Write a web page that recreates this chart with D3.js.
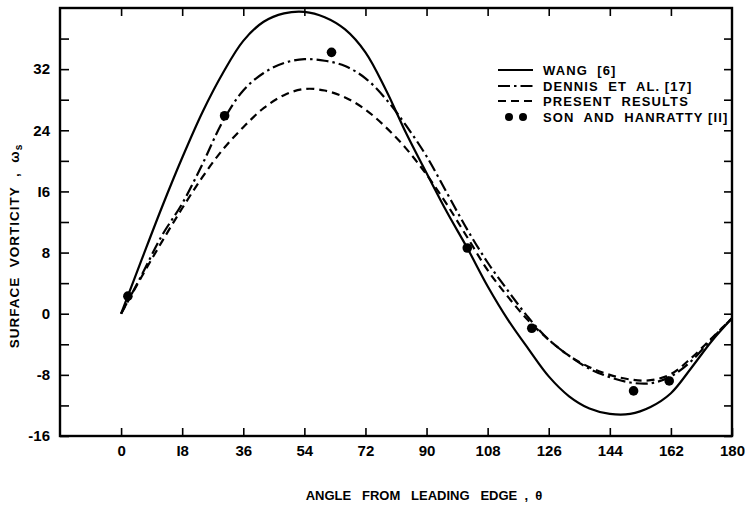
<!DOCTYPE html>
<html><head><meta charset="utf-8">
<script src="https://cdn.jsdelivr.net/npm/d3@7"></script>
<style>
body{margin:0;background:#fff;}
svg{display:block;}
text{font-family:"Liberation Sans",Arial,sans-serif;fill:#000;}
</style></head>
<body><svg id="c" width="745" height="508"></svg>
<script>
// ---- data ----
const angles = [0,6,12,18,24,30,36,42,48,54,60,66,72,78,84,90,96,102,108,114,120,126,132,138,144,150,156,162,168,174,180];
const wang    = [0,7.0,13.9,20.4,26.4,31.5,35.7,38.2,39.3,39.5,38.8,37.2,34.2,29.3,23.6,18.4,13.3,8.6,3.6,-0.8,-4.6,-8.2,-10.8,-12.4,-13.1,-13.1,-12.2,-10.4,-7.1,-3.6,-0.6];
const dennis  = [0,5.0,10.2,14.4,19.6,25.2,29.2,31.5,32.8,33.3,33.1,32.4,30.8,28.1,24.6,20.6,15.8,11.0,6.7,3.0,-0.5,-3.4,-5.5,-7.2,-8.3,-9.0,-9.1,-8.2,-6.2,-3.3,-0.6];
const present = [0,4.8,9.4,13.8,17.9,21.5,24.4,26.9,28.6,29.4,29.2,28.3,26.7,24.4,21.6,18.2,14.3,10.0,5.7,2.2,-0.9,-3.4,-5.5,-7.0,-8.0,-8.6,-8.7,-7.9,-5.8,-3.2,-0.6];
const sonAngles = [2,30.5,62,102,121,151,161.5];
const sonValues = [2.3,25.9,34.2,8.6,-1.9,-10.1,-8.8];
const xTicks = [0,18,36,54,72,90,108,126,144,162,180];
const yTicks = [-16,-12,-8,-4,0,4,8,12,16,20,24,28,32,36];
const yLabels = [-16,-8,0,8,16,24,32];
const legendLabels = ["WANG  [6]","DENNIS  ET  AL. [17]","PRESENT  RESULTS","SON  AND  HANRATTY [II]"];

const svg = d3.select("#c");
const L=60,R=732,T=8,B=436;
const x = d3.scaleLinear().domain([-18,180]).range([L,R]);
const y = d3.scaleLinear().domain([-16,40]).range([B,T]);

// axes
const fmtX = d=> d===18?"I8":String(d);
const gB = svg.append("g").attr("transform",`translate(0,${B})`)
  .call(d3.axisBottom(x).tickValues(xTicks).tickSizeInner(-8).tickSizeOuter(0).tickPadding(9).tickFormat(fmtX));
const gL = svg.append("g").attr("transform",`translate(${L},0)`)
  .call(d3.axisLeft(y).tickValues(yTicks).tickSizeInner(-9).tickSizeOuter(0).tickPadding(10)
    .tickFormat(d=> yLabels.includes(d) ? (d===16?"I6":String(d)) : ""));
const gT = svg.append("g").attr("transform",`translate(0,${T})`)
  .call(d3.axisTop(x).tickValues(xTicks.slice(0,-1)).tickSizeInner(-8).tickSizeOuter(0).tickFormat(""));
const gR = svg.append("g").attr("transform",`translate(${R},0)`)
  .call(d3.axisRight(y).tickValues(yTicks).tickSizeInner(-8).tickSizeOuter(0).tickFormat(""));
[gB,gL,gT,gR].forEach(g=>{
  g.select(".domain").remove();
  g.selectAll(".tick line").attr("stroke","#000").attr("stroke-width",1.6);
  g.selectAll(".tick text").attr("font-size",15).attr("font-weight","bold").attr("font-family","Liberation Sans, Arial, sans-serif");
});
// frame
svg.append("rect").attr("x",L).attr("y",T).attr("width",R-L).attr("height",B-T)
  .attr("fill","none").attr("stroke","#000").attr("stroke-width",2.4);

// curves
const line = d3.line().x(d=>x(d[0])).y(d=>y(d[1])).curve(d3.curveCatmullRom.alpha(0.5));
const series = [
  {vals:wang, dash:null},
  {vals:dennis, dash:"12,4,2.5,4"},
  {vals:present, dash:"8,5"}
];
series.forEach(s=>{
  svg.append("path").datum(angles.map((a,i)=>[a,s.vals[i]]))
    .attr("d",line).attr("fill","none").attr("stroke","#000").attr("stroke-width",2.2)
    .attr("stroke-dasharray",s.dash);
});
svg.selectAll("circle.son").data(sonAngles.map((a,i)=>[a,sonValues[i]])).enter()
  .append("circle").attr("class","son").attr("cx",d=>x(d[0])).attr("cy",d=>y(d[1])).attr("r",4.8).attr("fill","#000");

// legend
const lgY=[70,86,101,117];
const lx0=498,lx1=533,tx=543;
[null,"12,4,2.5,4","8,5"].forEach((dash,i)=>{
  svg.append("line").attr("x1",lx0).attr("x2",lx1).attr("y1",lgY[i]).attr("y2",lgY[i])
    .attr("stroke","#000").attr("stroke-width",2.2).attr("stroke-dasharray",dash);
});
svg.append("circle").attr("cx",509).attr("cy",lgY[3]).attr("r",4).attr("fill","#000");
svg.append("circle").attr("cx",523).attr("cy",lgY[3]).attr("r",4).attr("fill","#000");
legendLabels.forEach((t,i)=>{
  svg.append("text").attr("x",tx).attr("y",lgY[i]).attr("dy","0.36em")
    .attr("font-size",13).attr("letter-spacing",1.1).attr("font-weight","bold").style("white-space","pre").text(t);
});

// axis titles
const xt = svg.append("text").attr("x",424).attr("y",495).attr("dy","0.36em").attr("text-anchor","middle")
  .attr("font-size",13).attr("font-weight","bold").style("white-space","pre");
xt.text("ANGLE   FROM   LEADING   EDGE  ,  θ");
const yt = svg.append("text").attr("transform","translate(14,246) rotate(-90)").attr("text-anchor","middle")
  .attr("dy","0.36em").attr("font-size",13.5).attr("letter-spacing",1).attr("font-weight","bold").style("white-space","pre");
yt.append("tspan").text("SURFACE  VORTICITY  ,  ω");
yt.append("tspan").attr("font-size",10).attr("dy","3").text("s");
</script></body></html>
